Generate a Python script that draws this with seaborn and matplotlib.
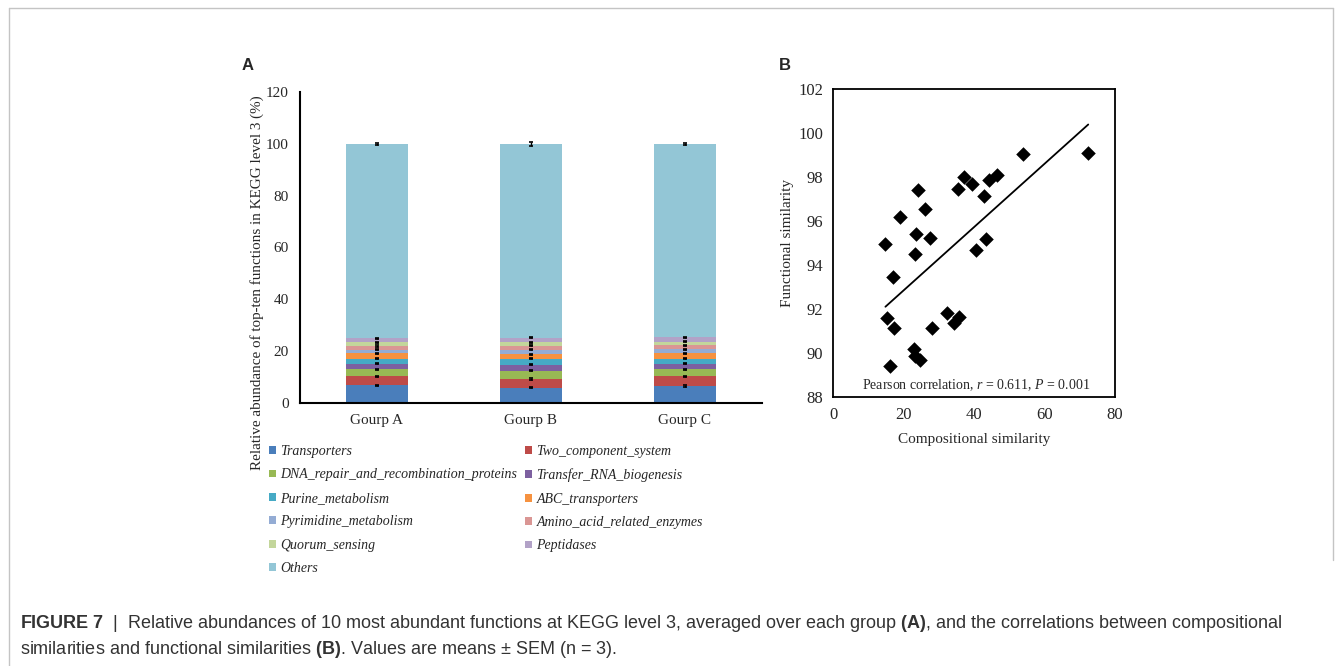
import numpy as np
import pandas as pd
import matplotlib
matplotlib.use('Agg')
import matplotlib.pyplot as plt
from matplotlib.patches import Patch
from matplotlib.lines import Line2D
import seaborn as sns

# ---- data: panel A, relative abundance (%) of KEGG level-3 functions ----
groups = ['Gourp A', 'Gourp B', 'Gourp C']
functions = ['Transporters', 'Two_component_system', 'DNA_repair_and_recombination_proteins',
             'Transfer_RNA_biogenesis', 'Purine_metabolism', 'ABC_transporters',
             'Pyrimidine_metabolism', 'Amino_acid_related_enzymes', 'Quorum_sensing',
             'Peptidases', 'Others']
abund_a = [6.8, 3.5, 2.7, 2.1, 1.9, 2.1, 1.4, 1.5, 1.4, 1.6, 75.0]
abund_b = [5.9, 3.4, 3.2, 2.2, 2.3, 1.8, 1.8, 1.5, 1.3, 1.7, 74.9]
abund_c = [6.5, 3.8, 2.7, 2.1, 2.0, 2.0, 1.7, 1.5, 1.4, 1.7, 74.6]
sem_a = [0.3, 0.3, 0.2, 0.2, 0.2, 0.2, 0.2, 0.2, 0.2, 0.2, 0.3]
sem_b = [0.3, 0.3, 0.2, 0.2, 0.2, 0.2, 0.2, 0.2, 0.2, 0.2, 0.8]
sem_c = [0.3, 0.3, 0.2, 0.2, 0.2, 0.2, 0.2, 0.2, 0.2, 0.2, 0.4]
colors = ['#4A7EBB', '#BE4B48', '#98B954', '#7D60A0', '#46AAC5', '#F69240',
          '#94ACD4', '#DA9694', '#C3D69B', '#B2A2C7', '#93C6D6']

# ---- data: panel B, compositional vs functional similarity ----
comp_sim = [14.8, 15.2, 16.1, 16.9, 17.2, 18.9, 22.9, 23.2, 23.2, 23.4, 24.1, 24.6, 25.9, 27.5,
            28.0, 32.2, 34.4, 35.3, 35.8, 37.1, 39.5, 40.5, 42.7, 43.4, 44.2, 46.4, 53.8, 72.4]
func_sim = [94.95, 91.6, 89.4, 93.45, 91.15, 96.2, 90.15, 89.85, 94.5, 95.4, 97.4, 89.65, 96.55, 95.25,
            91.15, 91.8, 91.35, 97.45, 91.65, 98.0, 97.7, 94.7, 97.15, 95.2, 97.85, 98.1, 99.05, 99.1]

sns.set_style('white')
plt.rcParams['font.family'] = ['Liberation Serif', 'DejaVu Serif']
plt.rcParams['mathtext.fontset'] = 'custom'
plt.rcParams['mathtext.it'] = 'Liberation Serif:italic'
plt.rcParams['mathtext.rm'] = 'Liberation Sans'
plt.rcParams['mathtext.bf'] = 'Liberation Sans:bold'

W, H = 1342, 666
fig = plt.figure(figsize=(W / 100, H / 100), dpi=100)
fig.patch.set_facecolor('white')

# ================= panel A =================
ax1 = fig.add_axes([300 / W, 1 - 403 / H, 462 / W, 311 / H])

df = pd.DataFrame({
    'group': np.repeat(groups, len(functions)),
    'function': functions * len(groups),
    'value': abund_a + abund_b + abund_c,
    'sem': sem_a + sem_b + sem_c,
})
df['top'] = df.groupby('group')['value'].cumsum()

# stacked bars: draw cumulative heights from the top layer down
for func, col in reversed(list(zip(functions, colors))):
    sub = df[df['function'] == func]
    sns.barplot(data=sub, x='group', y='top', order=groups, color=col, saturation=1,
                width=0.4, errorbar=None, linewidth=0, edgecolor='none', ax=ax1)

for func in functions:
    sub = df[df['function'] == func].set_index('group').loc[groups]
    ax1.errorbar(np.arange(len(groups)), sub['top'], yerr=sub['sem'], fmt='none',
                 ecolor='black', elinewidth=1, capsize=1.6, capthick=1.2, zorder=5)

ax1.set_xlim(-0.5, 2.5)
ax1.set_ylim(0, 120)
ax1.set_yticks(range(0, 121, 20))
ax1.set_xlabel('')
ax1.set_ylabel('Relative abundance of top-ten functions in KEGG level 3 (%)', fontsize=10.9)
ax1.yaxis.set_label_coords(-0.078, 0.386)
for s in ['top', 'right']:
    ax1.spines[s].set_visible(False)
for s in ['left', 'bottom']:
    ax1.spines[s].set_color('black')
    ax1.spines[s].set_linewidth(1.5)
ax1.set_xticks([0.5, 1.5], minor=True)
ax1.tick_params(axis='x', which='major', length=0, labelsize=11, pad=8)
ax1.tick_params(axis='x', which='minor', direction='in', length=4, width=1.2, color='black')
ax1.tick_params(axis='y', direction='in', length=4, width=1.2, color='black', labelsize=11, pad=8)

# legend, row-major like the original (two columns)
handles = [Patch(facecolor=c, edgecolor='none') for c in colors]
order = [0, 2, 4, 6, 8, 10, 1, 3, 5, 7, 9]
fig.legend([handles[i] for i in order], [functions[i] for i in order],
           loc='upper left', bbox_to_anchor=(269 / W, 1 - 445 / H), ncol=2, frameon=False,
           prop={'family': 'Liberation Serif', 'style': 'italic', 'size': 10},
           handlelength=0.5, handleheight=0.5, handletextpad=0.3, columnspacing=0.6,
           labelspacing=0.75, borderpad=0, borderaxespad=0)

# ================= panel B =================
ax2 = fig.add_axes([833.3 / W, 1 - 396.7 / H, 281.7 / W, 307.4 / H])
sns.regplot(x=comp_sim, y=func_sim, scatter=False, ci=None, truncate=True,
            color='black', line_kws={'lw': 1.3}, ax=ax2)
sns.scatterplot(x=comp_sim, y=func_sim, marker='D', color='black', s=55,
                edgecolor='black', linewidth=0, ax=ax2, zorder=4)
ax2.set_xlim(0, 80)
ax2.set_ylim(88, 102)
ax2.set_xticks(range(0, 81, 20))
ax2.set_yticks(range(88, 103, 2))
for s in ax2.spines.values():
    s.set_color('black')
    s.set_linewidth(1.3)
ax2.tick_params(direction='out', length=4, width=1.2, color='black', labelsize=12)
ax2.set_xlabel('Compositional similarity', fontsize=11, labelpad=7)
ax2.set_ylabel('Functional similarity', fontsize=11, labelpad=3)
ax2.text(0.507, 0.038, 'Pearson correlation, $r$ = 0.611, $P$ = 0.001',
         transform=ax2.transAxes, ha='center', va='center', fontsize=10)

# panel letters
fig.text(248 / W, 1 - 65 / H, 'A', family='Liberation Sans', fontweight='bold',
         fontsize=12, ha='center', va='center')
fig.text(785 / W, 1 - 65 / H, 'B', family='Liberation Sans', fontweight='bold',
         fontsize=12, ha='center', va='center')

# caption
cap_kw = dict(family='Liberation Sans', fontsize=13, color='#333333', ha='left', va='center')
fig.text(20 / W, 1 - 624 / H,
         r'$\mathbf{FIGURE\ 7}$  |  Relative abundances of 10 most abundant functions at KEGG level 3, '
         r'averaged over each group $\mathbf{(A)}$, and the correlations between compositional', **cap_kw)
fig.text(20 / W, 1 - 650 / H,
         r'similarities and functional similarities $\mathbf{(B)}$. Values are means $\pm$ SEM (n = 3).',
         **cap_kw)

# page frame
frame = '#c4c4c4'
fig.add_artist(Line2D([9 / W, 9 / W], [0, 1 - 8 / H], transform=fig.transFigure, color=frame, lw=1))
fig.add_artist(Line2D([9 / W, 1333 / W], [1 - 8 / H, 1 - 8 / H], transform=fig.transFigure, color=frame, lw=1))
fig.add_artist(Line2D([1333 / W, 1333 / W], [1 - 8 / H, 1 - 560 / H], transform=fig.transFigure, color=frame, lw=1))

fig.savefig('out.png', dpi=100, facecolor='white')
plt.close(fig)
